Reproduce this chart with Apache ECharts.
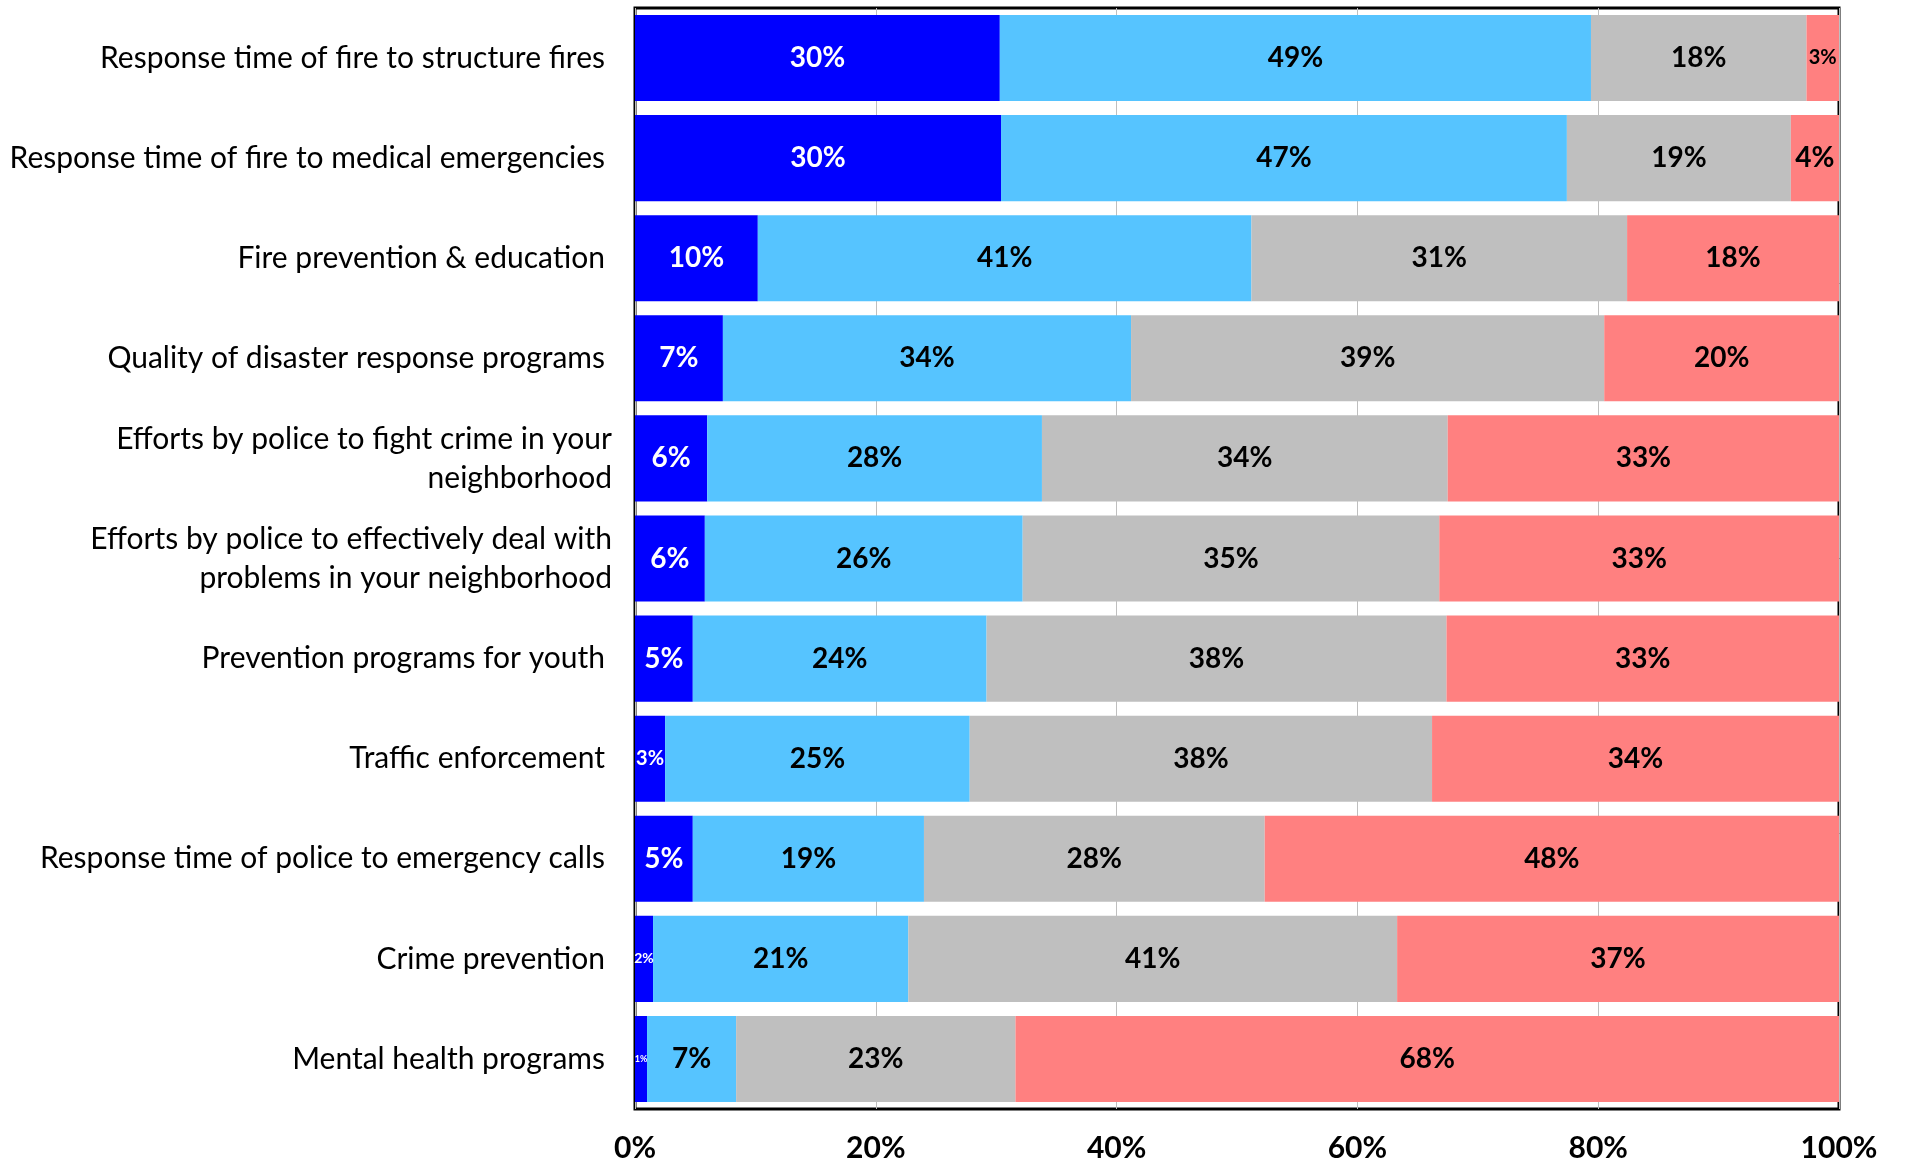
<!DOCTYPE html>
<html>
<head>
<meta charset="utf-8">
<title>Service ratings</title>
<script src="https://cdn.jsdelivr.net/npm/echarts@6/dist/echarts.min.js"></script>
<style>
  html, body { margin: 0; padding: 0; background: #fff; }
  #chart { width: 1906px; height: 1166px; }
</style>
</head>
<body>
<div id="chart"></div>
<script>
// rows, top to bottom
var categories = [
  'Response time of fire to structure fires',
  'Response time of fire to medical emergencies',
  'Fire prevention & education',
  'Quality of disaster response programs',
  'Efforts by police to fight crime in your\nneighborhood',
  'Efforts by police to effectively deal with\nproblems in your neighborhood',
  'Prevention programs for youth',
  'Traffic enforcement',
  'Response time of police to emergency calls',
  'Crime prevention',
  'Mental health programs'
];

// segment shares in %
var darkBlue  = [30.3, 30.4, 10.2, 7.3, 6.0, 5.8, 4.8, 2.5, 4.8, 1.5, 1.0];
var lightBlue = [49.1, 47.0, 41.0, 33.9, 27.8, 26.4, 24.4, 25.3, 19.2, 21.2, 7.4];
var grey      = [17.9, 18.6, 31.2, 39.3, 33.7, 34.6, 38.2, 38.4, 28.3, 40.6, 23.2];
var red       = [2.7, 4.0, 17.6, 19.5, 32.5, 33.2, 32.6, 33.8, 47.7, 36.7, 68.4];

var xTicks = [0, 20, 40, 60, 80, 100];

var FONT = 'Lato, "Open Sans", sans-serif';

// small segments get smaller label text, like the original
function labelSize(v) {
  if (v < 2) return Math.round(v * 9);
  if (v < 3.5) return 20;
  return 28;
}

function makeSeries(name, values, color, textColor) {
  return {
    name: name,
    type: 'bar',
    stack: 'total',
    barCategoryGap: '14%',
    itemStyle: { color: color },
    label: {
      show: true,
      position: 'inside',
      color: textColor,
      fontFamily: FONT,
      fontWeight: 'bold',
      formatter: function (p) { return Math.round(p.value) + '%'; }
    },
    data: values.map(function (v) {
      return { value: v, label: { fontSize: labelSize(v) } };
    })
  };
}

var mychart = echarts.init(document.getElementById('chart'));

var option = {
  animation: false,
  grid: {
    left: 635,
    right: 67,
    top: 8,
    bottom: 57,
    show: true,
    borderColor: '#000',
    borderWidth: 3,
    backgroundColor: 'transparent'
  },
  xAxis: {
    type: 'value',
    min: xTicks[0],
    max: xTicks[xTicks.length - 1],
    interval: 20,
    axisLine: { show: false },
    axisTick: { show: false },
    splitLine: { show: true, lineStyle: { color: '#BFBFBF', width: 1 } },
    axisLabel: {
      formatter: '{value}%',
      fontFamily: FONT,
      fontWeight: 'bold',
      fontSize: 30,
      color: '#000',
      margin: 24
    }
  },
  yAxis: {
    type: 'category',
    inverse: true,
    // wrapped labels sit a little lower and further right in the original
    data: categories.map(function (c) {
      return c.indexOf('\n') >= 0
        ? { value: c, textStyle: { padding: [12, -7, 0, 0] } }
        : c;
    }),
    axisLine: { show: false },
    axisTick: { show: false },
    axisLabel: {
      fontFamily: FONT,
      fontSize: 30,
      lineHeight: 39,
      color: '#000',
      margin: 30,
      align: 'right'
    }
  },
  series: [
    makeSeries('Very satisfied', darkBlue, '#0000FF', '#fff'),
    makeSeries('Satisfied', lightBlue, '#56C4FF', '#000'),
    makeSeries('Neutral', grey, '#BFBFBF', '#000'),
    makeSeries('Dissatisfied', red, '#FF8080', '#000')
  ]
};

mychart.setOption(option);
</script>
</body>
</html>
